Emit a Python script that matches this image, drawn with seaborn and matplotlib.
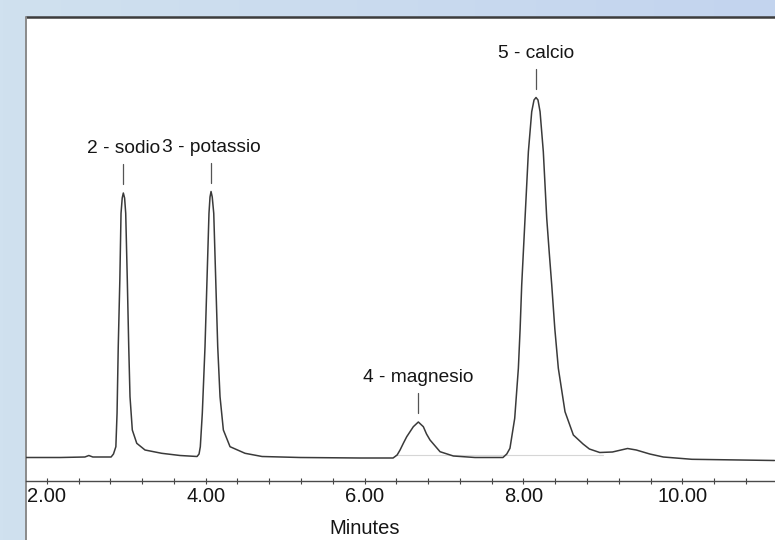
"""
Cromatogramma ionico - cationi (sodio, potassio, magnesio, calcio)
"""
import numpy as np
import matplotlib
matplotlib.use("Agg")
import matplotlib.pyplot as plt
from matplotlib.lines import Line2D
from matplotlib.patches import Rectangle
import seaborn as sns

# Tracciato: tempo (minuti) e risposta (unita' arbitrarie)
minutes = [1.74, 2.17, 2.48, 2.53, 2.58, 2.81, 2.84, 2.87, 2.885, 2.90,
           2.92, 2.935, 2.95, 2.964, 2.98, 2.994, 3.014, 3.032, 3.048, 3.077,
           3.133, 3.237, 3.447, 3.678, 3.892, 3.917, 3.933, 3.958, 3.992, 4.017,
           4.042, 4.055, 4.068, 4.083, 4.102, 4.127, 4.152, 4.181, 4.223, 4.307,
           4.496, 4.71, 5.188, 5.943, 6.359, 6.41, 6.447, 6.49, 6.531, 6.614, 6.677,
           6.74, 6.78, 6.824, 6.95, 7.118, 7.39, 7.742, 7.79, 7.83, 7.89, 7.936,
           7.958, 7.978, 8.02, 8.062, 8.104, 8.133, 8.158, 8.183, 8.209, 8.25, 8.293,
           8.325, 8.356, 8.395, 8.439, 8.523, 8.628, 8.75, 8.83, 8.96, 9.12, 9.31, 9.42,
           9.59, 9.76, 10.12, 11.16]
response = [23.5, 23.5, 24, 25.5, 24, 24, 27, 34.3, 67.7, 134.3,
            201, 267.7, 283, 288, 283, 267.7, 201, 134.3, 84.3, 51,
            37.7, 31, 27.7, 25.5, 24.5, 27, 34.3, 67.7, 134.3, 201,
            267.7, 284, 289.5, 284, 267.7, 201, 134.3, 84.3, 51, 34.3,
            27.7, 24.5, 23.5, 23, 23, 26, 31, 38, 44.3, 54.3, 59,
            54.3, 47, 41, 29.3, 25, 23.5, 23.5, 27, 32.7, 62.7, 112.7,
            152, 196, 262.7, 329.3, 369.3, 381, 383.5, 381, 369.3, 329.3, 262.7,
            228, 196, 152, 112.7, 69.3, 46, 37, 32, 28.5, 29, 32.5, 31,
            27, 24, 21.7, 20.5]

# Picchi identificati
peak_names = ["2 - sodio", "3 - potassio", "4 - magnesio", "5 - calcio"]
peak_times = [2.964, 4.068, 6.677, 8.158]
peak_heights = [288, 289.5, 59, 383.5]

W, H = 775, 540
X_MIN, X_MAX = 1.739, 11.166
FONT = ["Liberation Sans", "DejaVu Sans"]


def draw_background(fig):
    """Sfondo azzurro sfumato e pannello bianco con bordo"""
    bg = fig.add_axes([0, 0, 1, 1], zorder=-10)
    grad = np.linspace(0, 1, 256).reshape(1, -1)
    cmap = matplotlib.colors.LinearSegmentedColormap.from_list("bg", ["#d0e1ef", "#c3d4ee"])
    bg.imshow(grad, aspect="auto", cmap=cmap, extent=[0, 1, 0, 1])
    bg.add_patch(Rectangle((26 / W, 0), 1, (H - 17) / H, facecolor="white", edgecolor="none"))
    bg.add_line(Line2D([26 / W, 1], [(H - 17) / H] * 2, color="#3c3c3c", lw=1.8))
    bg.add_line(Line2D([26 / W] * 2, [0, (H - 17) / H], color="#8a8a8a", lw=1.4))
    bg.set_xlim(0, 1)
    bg.set_ylim(0, 1)
    bg.axis("off")


def main():
    sns.set_style("white")
    plt.rcParams["font.family"] = FONT

    fig = plt.figure(figsize=(W / 100, H / 100), dpi=100)
    draw_background(fig)

    ax = fig.add_axes([26 / W, (H - 481) / H, (W - 26) / W, (481 - 17) / H])
    ax.patch.set_alpha(0)

    # linea di base dell'integrazione (molto chiara)
    ax.plot([6.38, 9.0], [26, 26], color="#d6d6d6", lw=0.8)

    sns.lineplot(x=minutes, y=response, ax=ax, color="#3a3a3a", linewidth=1.1,
                 estimator=None, sort=False)

    for name, t, h in zip(peak_names, peak_times, peak_heights):
        ax.plot([t, t], [h + 9, h + 29], color="#555555", lw=0.9)
        ax.text(t, h + 40, name, ha="center", va="baseline", fontsize=13.8,
                color="#151515", family=FONT)

    ax.set_xlim(X_MIN, X_MAX)
    ax.set_ylim(0, 464)
    ax.xaxis.set_major_locator(matplotlib.ticker.MultipleLocator(2))
    ax.xaxis.set_minor_locator(matplotlib.ticker.MultipleLocator(0.4))
    ax.xaxis.set_major_formatter(matplotlib.ticker.FormatStrFormatter("%.2f"))
    ax.tick_params(axis="x", which="both", direction="inout", length=4.5, width=0.8,
                   color="#444444", pad=2, labelsize=14.5, labelcolor="#151515",
                   bottom=True)
    ax.set_yticks([])
    for side in ["top", "right", "left"]:
        ax.spines[side].set_visible(False)
    ax.spines["bottom"].set_color("#4a4a4a")
    ax.spines["bottom"].set_linewidth(1.0)

    ax.set_xlabel("Minutes", fontsize=14.5, color="#151515", va="top")
    ax.xaxis.set_label_coords((6.0 - X_MIN) / (X_MAX - X_MIN), -38 / 464)

    fig.savefig("out.png", dpi=100)
    plt.close(fig)


if __name__ == "__main__":
    main()
